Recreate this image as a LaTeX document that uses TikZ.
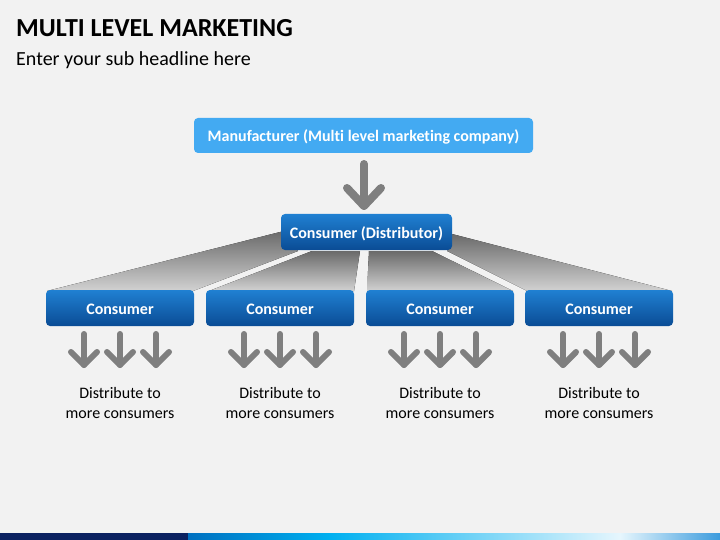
\documentclass[tikz,border=0pt]{standalone}
\usepackage{fontspec}
\setmainfont{Carlito}[Ligatures=NoCommon]
\definecolor{bg}{HTML}{F2F2F2}
\definecolor{mfr}{HTML}{43AAF2}
\definecolor{btop}{HTML}{2080D2}
\definecolor{bbot}{HTML}{0A4C95}
\definecolor{arr}{HTML}{7F7F7F}
\definecolor{fantop}{HTML}{6A6A6A}
\definecolor{fanbot}{HTML}{D2D2D2}
\definecolor{navy}{HTML}{0B2160}
\definecolor{stripA}{HTML}{0070C0}
\definecolor{stripB}{HTML}{00B0F0}
\definecolor{stripC}{HTML}{E6F6FD}
\definecolor{stripD}{HTML}{3B9BDD}
\tikzset{
  mfrbox/.style={fill=mfr, rounded corners=4pt, minimum width=339pt, minimum height=35pt, text height=12pt, text depth=0pt, text=white, font=\fontsize{16}{18}\selectfont\bfseries},
  bluebox/.style={top color=btop, bottom color=bbot, rounded corners=4pt, minimum height=36pt, text height=12pt, text depth=0pt, text=white, font=\fontsize{16}{18}\selectfont\bfseries},
  fan/.style={top color=fantop, bottom color=fanbot, draw=none},
  bigarrow/.style={draw=arr, line width=8pt, line cap=round, line join=round},
  smallarrow/.style={draw=arr, line width=6pt, line cap=round, line join=round},
  desc/.style={align=center, font=\fontsize{16}{20}\selectfont, text=black}
}
\begin{document}
\begin{tikzpicture}[x=1pt,y=-1pt]
\fill[bg] (0,0) rectangle (720,540);
\useasboundingbox (0,0) rectangle (720,540);
% title
\node[anchor=base west, inner sep=0, font=\fontsize{26}{30}\selectfont\bfseries] (title) at (16,37) {MULTI LEVEL MARKETING};
\node[anchor=base west, inner sep=0, font=\fontsize{20}{24}\selectfont] (sub) at (16,66) {Enter your sub headline here};
% fans
\fill[fan] (47,291) -- (284,231) -- (298,251) -- (193,291) -- cycle;
\fill[fan] (209,291) -- (312,251) -- (360,251) -- (354,291) -- cycle;
\fill[fan] (367,291) -- (369,251) -- (432,251) -- (513,291) -- cycle;
\fill[fan] (527,291) -- (447,251) -- (452,234) -- (672,291) -- cycle;
% boxes
\node[mfrbox] (m) at (363.5,135.5) {Manufacturer (Multi level marketing company)};
\node[bluebox, minimum width=171pt] (d) at (366.5,232) {Consumer (Distributor)};
\foreach \i/\x in {1/120,2/280,3/440,4/599}{
  \node[bluebox, minimum width=148pt] (c\i) at (\x,308) {Consumer};
  \foreach \dx in {-36,0,36}{
    \draw[smallarrow] (\x+\dx,334) -- (\x+\dx,365);
    \draw[smallarrow] (\x+\dx-13,352) -- (\x+\dx,365) -- (\x+\dx+13,352);
  }
  \node[desc] (t\i) at (\x,403) {Distribute to\\more consumers};
}
% big arrow
\coordinate (atop) at (364,164);
\coordinate (atip) at (364,206);
\draw[bigarrow] (atop) -- (atip);
\draw[bigarrow] (347,188) -- (atip) -- (381,188);
% bottom strip
\fill[navy] (0,533) rectangle (188,540);
\shade[left color=stripA, right color=stripB] (188,533) rectangle (330,540);
\shade[left color=stripB, right color=stripC] (330,533) rectangle (620,540);
\shade[left color=stripC, right color=stripD] (620,533) rectangle (720,540);
\end{tikzpicture}
\end{document}
